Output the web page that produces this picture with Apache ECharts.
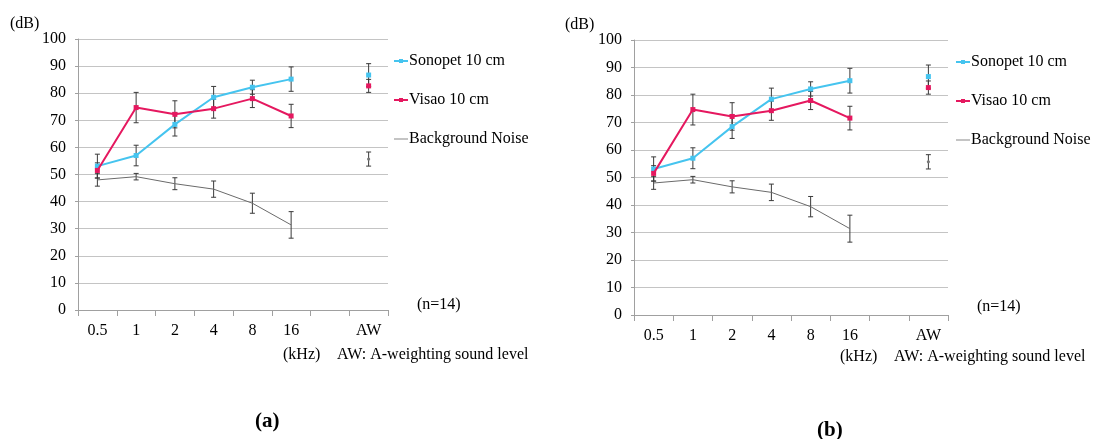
<!DOCTYPE html>
<html><head><meta charset="utf-8">
<script src="https://cdn.jsdelivr.net/npm/echarts@6/dist/echarts.min.js"></script>
<style>html,body{margin:0;padding:0;background:#fff}#c{width:1096px;height:439px}</style>
</head><body><div id="c"></div>
<script>
var categories = ['0.5', '1', '2', '4', '8', '16', '', 'AW'];
var yTicks = [0, 100, 10];
var sonopet = [53.1, 57.0, 68.5, 78.5, 82.2, 85.2, null, 86.7];
var sonopetErr = [4.4, 3.8, 4.3, 4.0, 2.6, 4.5, null, 4.2];
var visao = [51.5, 74.7, 72.2, 74.3, 78.0, 71.6, null, 82.7];
var visaoErr = [2.8, 5.6, 5.0, 3.5, 3.3, 4.3, null, 2.4];
var noise = [48.0, 49.2, 46.6, 44.6, 39.4, 31.4, null, 55.7];
var noiseErr = [2.3, 1.2, 2.2, 3.0, 3.7, 4.9, null, 2.6];
var seriesNames = ['Sonopet 10 cm', 'Visao 10 cm', 'Background Noise'];
var FONT = 'Liberation Serif';
var C_SON = '#45c4ef', C_VIS = '#e5185f', C_NOI = '#6a6a6a', C_ERR = '#3a3a3a';

function errData(vals, errs) {
  var out = [];
  for (var i = 0; i < vals.length; i++) {
    if (vals[i] == null) continue;
    var isolated = (i === 0 || vals[i - 1] == null) && (i === vals.length - 1 || vals[i + 1] == null);
    out.push([i, vals[i] - errs[i], vals[i] + errs[i], vals[i], isolated ? 1 : 0]);
  }
  return out;
}
function errRender(dot) {
  return function (params, api) {
    var x = api.value(0);
    var lo = api.coord([x, api.value(1)]);
    var hi = api.coord([x, api.value(2)]);
    var w = 2.5;
    var st = { stroke: C_ERR, lineWidth: 1 };
    var ch = [
      { type: 'line', shape: { x1: lo[0], y1: lo[1], x2: hi[0], y2: hi[1] }, style: st },
      { type: 'line', shape: { x1: lo[0] - w, y1: lo[1], x2: lo[0] + w, y2: lo[1] }, style: st },
      { type: 'line', shape: { x1: hi[0] - w, y1: hi[1], x2: hi[0] + w, y2: hi[1] }, style: st }
    ];
    if (dot && api.value(4)) {
      var m = api.coord([x, api.value(3)]);
      ch.push({ type: 'circle', shape: { cx: m[0], cy: m[1], r: 1.6 }, style: { fill: '#777' } });
    }
    return { type: 'group', children: ch };
  };
}
var grids = [
  { left: 78, top: 39, width: 310, height: 271 },
  { left: 634, top: 40, width: 314, height: 275 }
];
var xAxes = [], yAxes = [], series = [];
grids.forEach(function (g, k) {
  xAxes.push({
    type: 'category', gridIndex: k, data: categories, boundaryGap: true,
    axisLine: { lineStyle: { color: '#a0a0a0' } },
    axisTick: { show: true, interval: 0, length: 6, lineStyle: { color: '#a0a0a0' } },
    axisLabel: { interval: 0, margin: 13, fontFamily: FONT, fontSize: 16, color: '#000' },
    splitLine: { show: false }
  });
  yAxes.push({
    type: 'value', gridIndex: k, min: yTicks[0], max: yTicks[1], interval: yTicks[2],
    axisLine: { show: true, lineStyle: { color: '#a0a0a0' } },
    axisTick: { show: true, length: 3, lineStyle: { color: '#a0a0a0' } },
    axisLabel: { margin: 12, fontFamily: FONT, fontSize: 16, color: '#000' },
    splitLine: { lineStyle: { color: '#c4c4c4', width: 1 } }
  });
  series.push(
    { type: 'custom', name: 'errS' + k, xAxisIndex: k, yAxisIndex: k, renderItem: errRender(false),
      encode: { x: 0, y: [1, 2] }, data: errData(sonopet, sonopetErr), z: 1, silent: true },
    { type: 'custom', name: 'errV' + k, xAxisIndex: k, yAxisIndex: k, renderItem: errRender(false),
      encode: { x: 0, y: [1, 2] }, data: errData(visao, visaoErr), z: 1, silent: true },
    { type: 'custom', name: 'errN' + k, xAxisIndex: k, yAxisIndex: k, renderItem: errRender(true),
      encode: { x: 0, y: [1, 2] }, data: errData(noise, noiseErr), z: 1, silent: true },
    { type: 'line', name: seriesNames[2], xAxisIndex: k, yAxisIndex: k, data: noise, symbol: 'none',
      lineStyle: { color: C_NOI, width: 1 }, itemStyle: { color: C_NOI }, connectNulls: false, z: 2, animation: false },
    { type: 'line', name: seriesNames[0], xAxisIndex: k, yAxisIndex: k, data: sonopet, symbol: 'rect', symbolSize: 5,
      showSymbol: true, showAllSymbol: true,
      lineStyle: { color: C_SON, width: 2 }, itemStyle: { color: C_SON }, connectNulls: false, z: 3, animation: false },
    { type: 'line', name: seriesNames[1], xAxisIndex: k, yAxisIndex: k, data: visao, symbol: 'rect', symbolSize: 5,
      showSymbol: true, showAllSymbol: true,
      lineStyle: { color: C_VIS, width: 2 }, itemStyle: { color: C_VIS }, connectNulls: false, z: 4, animation: false }
  );
});
function legend(left, top) {
  return {
    orient: 'vertical', left: left, top: top, padding: 0, itemGap: 23, itemWidth: 14, itemHeight: 5,
    data: [seriesNames[0], seriesNames[1],
      { name: seriesNames[2], icon: 'path://M0,0H14V1H0Z', itemStyle: { color: '#888' } }],
    selectedMode: false,
    textStyle: { fontFamily: FONT, fontSize: 16, color: '#000', padding: [0, 0, 0, -4] }
  };
}
function txt(text, left, top, size, bold) {
  return { text: text, left: left, top: top, padding: 0,
    textStyle: { fontFamily: FONT, fontSize: size || 16, fontWeight: bold ? 'bold' : 'normal', color: '#000' } };
}
var option = {
  animation: false,
  grid: grids, xAxis: xAxes, yAxis: yAxes, series: series,
  legend: [legend(393, 53), legend(955, 54)],
  title: [
    txt('(dB)', 10, 16), txt('(dB)', 565, 17),
    txt('(kHz)', 283, 347), txt('AW: A-weighting sound level', 337, 347),
    txt('(kHz)', 840, 349), txt('AW: A-weighting sound level', 894, 349),
    txt('(n=14)', 417, 297), txt('(n=14)', 977, 299),
    txt('(a)', 255, 411, 21, true), txt('(b)', 817, 420, 21, true)
  ]
};
var chart = echarts.init(document.getElementById('c'), null, { renderer: 'canvas' });
chart.setOption(option);
</script></body></html>
